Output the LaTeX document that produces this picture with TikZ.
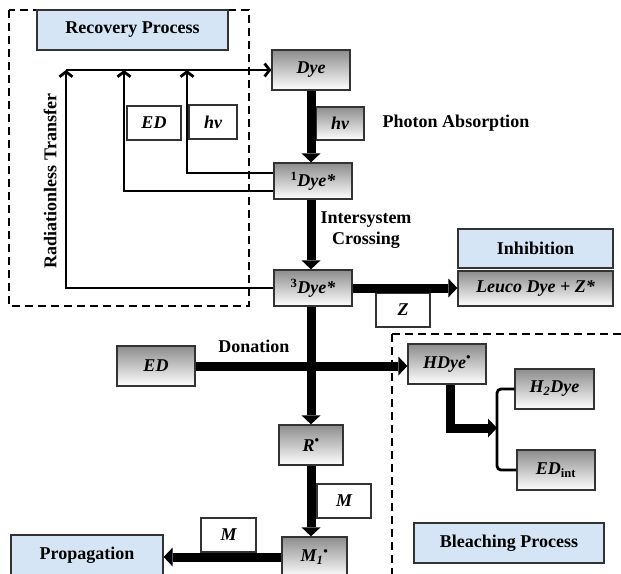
\documentclass[tikz,border=0pt]{standalone}
\usepackage{fontspec}
\setmainfont{Liberation Serif}
\usetikzlibrary{arrows.meta}
\definecolor{lblue}{RGB}{213,229,245}
\tikzset{
  base/.style={draw=black!80, line width=1.3pt, inner sep=0pt, font=\bfseries\fontsize{18}{21}\selectfont},
  gbox/.style={base, top color=black!45, bottom color=white, font=\bfseries\itshape\fontsize{18}{21}\selectfont},
  bbox/.style={base, fill=lblue},
  wbox/.style={base, fill=white, font=\bfseries\itshape\fontsize{18}{21}\selectfont},
  lbl/.style={font=\bfseries\fontsize{18}{21}\selectfont, align=center, inner sep=0pt},
  thinarrow/.style={line width=2.8pt, -{Straight Barb[length=5pt,width=13pt]}},
  thinline/.style={line width=2.8pt},
  thickarrow/.style={line width=9pt, -{Triangle[length=9pt,width=19pt,line width=0pt]}},
  dashbox/.style={line width=2.8pt, dash pattern=on 8pt off 5pt},
}
\begin{document}
\begin{tikzpicture}[x=1pt,y=-1pt]
\useasboundingbox (0,0) rectangle (621,573);
\clip (0,0) rectangle (621,573);
\fill[white] (0,0) rectangle (621,573);
% dashed process regions
\draw[dashbox] (9,10) rectangle (249,306);
\draw[dashbox] (392,334) rectangle (650,600);
% nodes
\node[bbox, minimum width=191pt, minimum height=40pt] (recov) at (132.5,30) {Recovery Process};
\node[gbox, minimum width=78pt, minimum height=40pt] (dye) at (311,70) {Dye};
\node[gbox, minimum width=48pt, minimum height=33pt] (hva) at (340,123.5) {hv};
\node[lbl] (photon) at (456,123) {Photon Absorption};
\node[wbox, minimum width=54pt, minimum height=34pt] (edr) at (154,123) {ED};
\node[wbox, minimum width=48pt, minimum height=34pt] (hvr) at (213,122) {hv};
\node[gbox, minimum width=78pt, minimum height=36pt] (dye1) at (313,181) {\textsuperscript{\upshape 1}Dye*};
\node[lbl] (isc) at (366,230) {Intersystem\\Crossing};
\node[gbox, minimum width=78pt, minimum height=36pt] (dye3) at (313,288) {\textsuperscript{\upshape 3}Dye*};
\node[bbox, minimum width=155pt, minimum height=39pt] (inhib) at (535.5,248.5) {Inhibition};
\node[gbox, minimum width=155pt, minimum height=35pt] (leuco) at (535.5,288.5) {Leuco Dye + Z*};
\node[wbox, minimum width=54pt, minimum height=34pt] (z) at (403,310) {Z};
\node[lbl, rotate=90] (rad) at (50,181) {Radiationless Transfer};
\node[gbox, minimum width=78pt, minimum height=40pt] (edl) at (156,366) {ED};
\node[lbl] (don) at (254,346) {Donation};
\node[gbox, minimum width=78pt, minimum height=40pt] (hdye) at (447,364) {HDye\textsuperscript{•}};
\node[gbox, minimum width=79pt, minimum height=40pt] (h2dye) at (554.5,389) {H\textsubscript{2}Dye};
\node[gbox, minimum width=78pt, minimum height=40pt] (edint) at (556,470) {ED\textsubscript{\upshape int}};
\node[bbox, minimum width=190pt, minimum height=40pt] (bleach) at (509,543) {Bleaching Process};
\node[gbox, minimum width=64pt, minimum height=40pt] (r) at (311,445) {R\textsuperscript{•}};
\node[wbox, minimum width=54pt, minimum height=34pt] (mr) at (344,501) {M};
\node[gbox, minimum width=65pt, minimum height=40pt] (m1) at (314.5,557) {M\textsubscript{1}\textsuperscript{•}};
\node[bbox, minimum width=152pt, minimum height=40pt] (prop) at (87,555) {Propagation};
\node[wbox, minimum width=55pt, minimum height=34pt] (ml) at (228.5,535) {M};
% junction coordinates
\coordinate (j1) at (66,70);
\coordinate (j2) at (124,70);
\coordinate (j3) at (187,70);
\coordinate (brk) at (497,428);
% thin recovery connectors
\draw[thinarrow] (j1) -- (dye.west);
\draw[thinarrow] (dye3.west) -| (j1);
\draw[thinarrow] ([yshift=-10pt]dye1.west) -| (j2);
\draw[thinarrow] ([yshift=8pt]dye1.west) -| (j3);
% thick main connectors
\draw[thickarrow] (dye.south) -- (dye1.north -| dye.south);
\draw[thickarrow] (dye1.south -| dye.south) -- (dye3.north -| dye.south);
\draw[thickarrow] (dye3.east) -- (leuco.west |- dye3.east);
\draw[thickarrow] (edl.east) -- (hdye.west |- edl.east);
\draw[thickarrow] (dye3.south -| dye.south) -- (r.north);
\draw[thickarrow] (r.south) -- (m1.north -| r.south);
\draw[thickarrow] (m1.west) -- (prop.east |- m1.west);
\draw[thickarrow] ([xshift=3pt]hdye.south) |- (brk);
% bracket
\draw[thinline, rounded corners=4pt] (h2dye.west) -| (brk) |- (edint.west);
\end{tikzpicture}
\end{document}
